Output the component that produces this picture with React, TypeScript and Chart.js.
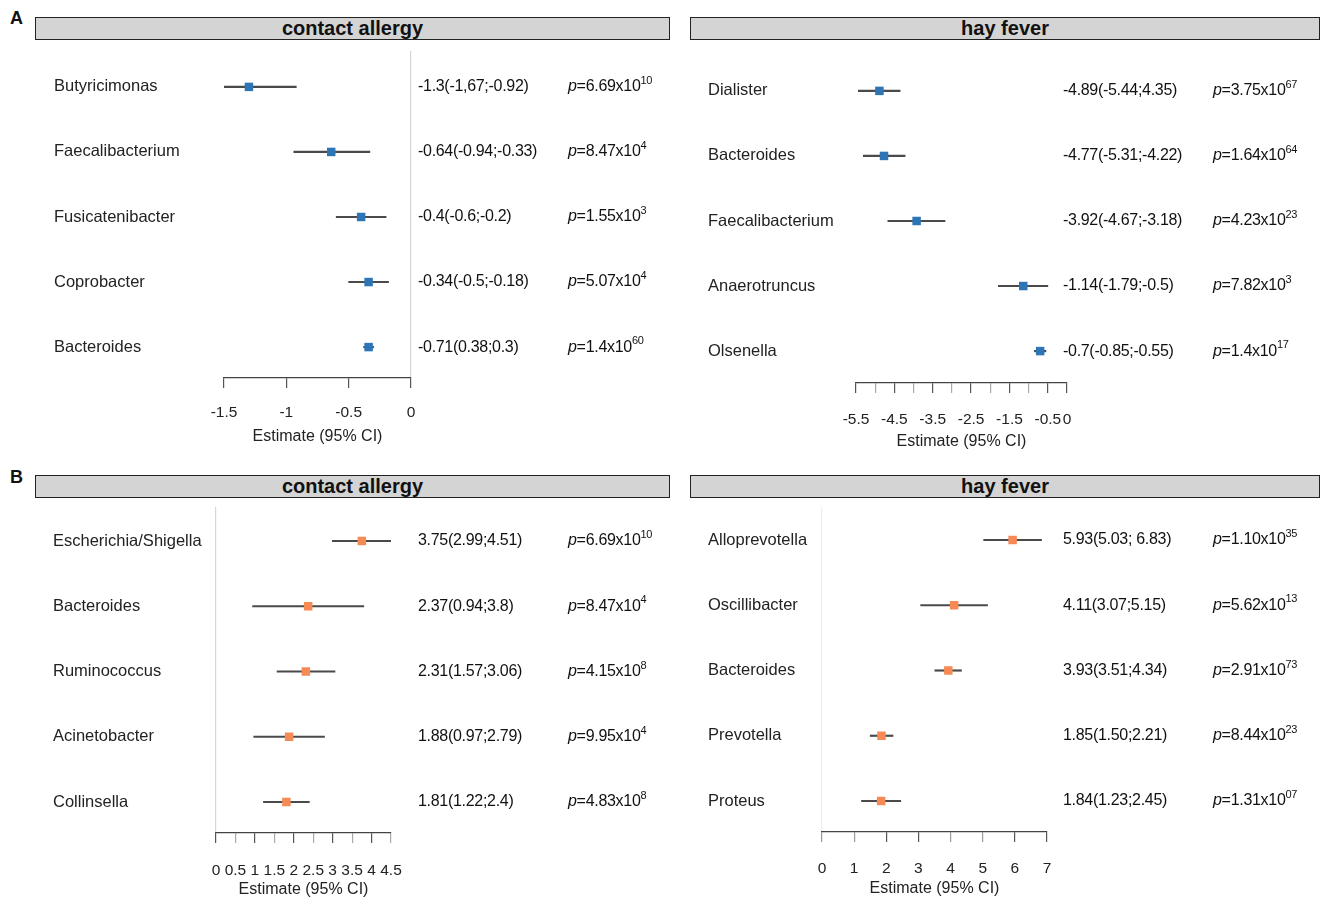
import React, { useEffect, useRef } from 'react';
import { Chart, registerables } from 'chart.js';

Chart.register(...registerables);

// ---------- Panel A: contact allergy ----------
const contactATaxa = ['Butyricimonas', 'Faecalibacterium', 'Fusicatenibacter', 'Coprobacter', 'Bacteroides'];
const contactAEst = [-1.3, -0.64, -0.4, -0.34, -0.34];
const contactALo = [-1.67, -0.94, -0.6, -0.5, -0.38];
const contactAHi = [-0.92, -0.33, -0.2, -0.18, -0.3];
const contactAEstText = ['-1.3(-1,67;-0.92)', '-0.64(-0.94;-0.33)', '-0.4(-0.6;-0.2)', '-0.34(-0.5;-0.18)', '-0.71(0.38;0.3)'];
const contactAPBase = ['6.69', '8.47', '1.55', '5.07', '1.4'];
const contactAPExp = ['10', '4', '3', '4', '60'];
const contactATicks = [-1.5, -1, -0.5, 0];
const contactATickLabels = ['-1.5', '-1', '-0.5', '0'];

// ---------- Panel A: hay fever ----------
const hayATaxa = ['Dialister', 'Bacteroides', 'Faecalibacterium', 'Anaerotruncus', 'Olsenella'];
const hayAEst = [-4.89, -4.77, -3.92, -1.14, -0.7];
const hayALo = [-5.44, -5.31, -4.67, -1.79, -0.85];
const hayAHi = [-4.35, -4.22, -3.18, -0.5, -0.55];
const hayAEstText = ['-4.89(-5.44;4.35)', '-4.77(-5.31;-4.22)', '-3.92(-4.67;-3.18)', '-1.14(-1.79;-0.5)', '-0.7(-0.85;-0.55)'];
const hayAPBase = ['3.75', '1.64', '4.23', '7.82', '1.4'];
const hayAPExp = ['67', '64', '23', '3', '17'];
const hayATicks = [-5.5, -5, -4.5, -4, -3.5, -3, -2.5, -2, -1.5, -1, -0.5, 0];
const hayATickLabels = ['-5.5', '', '-4.5', '', '-3.5', '', '-2.5', '', '-1.5', '', '-0.5', '0'];

// ---------- Panel B: contact allergy ----------
const contactBTaxa = ['Escherichia/Shigella', 'Bacteroides', 'Ruminococcus', 'Acinetobacter', 'Collinsella'];
const contactBEst = [3.75, 2.37, 2.31, 1.88, 1.81];
const contactBLo = [2.99, 0.94, 1.57, 0.97, 1.22];
const contactBHi = [4.51, 3.8, 3.06, 2.79, 2.4];
const contactBEstText = ['3.75(2.99;4.51)', '2.37(0.94;3.8)', '2.31(1.57;3.06)', '1.88(0.97;2.79)', '1.81(1.22;2.4)'];
const contactBPBase = ['6.69', '8.47', '4.15', '9.95', '4.83'];
const contactBPExp = ['10', '4', '8', '4', '8'];
const contactBTicks = [0, 0.5, 1, 1.5, 2, 2.5, 3, 3.5, 4, 4.5];
const contactBTickLabels = ['0', '0.5', '1', '1.5', '2', '2.5', '3', '3.5', '4', '4.5'];

// ---------- Panel B: hay fever ----------
const hayBTaxa = ['Alloprevotella', 'Oscillibacter', 'Bacteroides', 'Prevotella', 'Proteus'];
const hayBEst = [5.93, 4.11, 3.93, 1.85, 1.84];
const hayBLo = [5.03, 3.07, 3.51, 1.5, 1.23];
const hayBHi = [6.83, 5.15, 4.34, 2.21, 2.45];
const hayBEstText = ['5.93(5.03; 6.83)', '4.11(3.07;5.15)', '3.93(3.51;4.34)', '1.85(1.50;2.21)', '1.84(1.23;2.45)'];
const hayBPBase = ['1.10', '5.62', '2.91', '8.44', '1.31'];
const hayBPExp = ['35', '13', '73', '23', '07'];
const hayBTicks = [0, 1, 2, 3, 4, 5, 6, 7];
const hayBTickLabels = ['0', '1', '2', '3', '4', '5', '6', '7'];

const axisTitle = 'Estimate (95% CI)';
const BLUE = '#2e75b6';
const ORANGE = '#f58a54';
const FONT = '"Liberation Sans", Arial, sans-serif';

type Panel = {
  taxa: string[]; est: number[]; lo: number[]; hi: number[];
  estText: string[]; pBase: string[]; pExp: string[];
  ticks: number[]; tickLabels: string[];
  color: string;
  canvas: { left: number; top: number; width: number; height: number };
  area: { left: number; right: number; top: number; bottom: number };
  row1: number; row5: number;
  taxaX: number; estX: number; pX: number;
  tickPad: number; axisH: number; titlePad: number;
  zeroColor: string;
  tickColorFn: (i: number, v: number) => string;
};

const panels: Panel[] = [
  {
    taxa: contactATaxa, est: contactAEst, lo: contactALo, hi: contactAHi,
    estText: contactAEstText, pBase: contactAPBase, pExp: contactAPExp,
    ticks: contactATicks, tickLabels: contactATickLabels, color: BLUE,
    canvas: { left: 0, top: 45, width: 680, height: 410 },
    area: { left: 224, right: 411, top: 50, bottom: 378 },
    row1: 86, row5: 347, taxaX: 54, estX: 418, pX: 568,
    tickPad: 15, axisH: 70, titlePad: 2, zeroColor: '#d6d6d6',
    tickColorFn: () => '#555555',
  },
  {
    taxa: hayATaxa, est: hayAEst, lo: hayALo, hi: hayAHi,
    estText: hayAEstText, pBase: hayAPBase, pExp: hayAPExp,
    ticks: hayATicks, tickLabels: hayATickLabels, color: BLUE,
    canvas: { left: 680, top: 45, width: 648, height: 410 },
    area: { left: 856, right: 1067, top: 50, bottom: 383 },
    row1: 90, row5: 351, taxaX: 708, estX: 1063, pX: 1213,
    tickPad: 17, axisH: 70, titlePad: 2, zeroColor: 'rgba(0,0,0,0)',
    tickColorFn: (i) => (hayATickLabels[i] ? '#555555' : '#aaaaaa'),
  },
  {
    taxa: contactBTaxa, est: contactBEst, lo: contactBLo, hi: contactBHi,
    estText: contactBEstText, pBase: contactBPBase, pExp: contactBPExp,
    ticks: contactBTicks, tickLabels: contactBTickLabels, color: ORANGE,
    canvas: { left: 0, top: 500, width: 680, height: 401 },
    area: { left: 216, right: 391, top: 507, bottom: 833 },
    row1: 541, row5: 802, taxaX: 53, estX: 418, pX: 568,
    tickPad: 18, axisH: 66, titlePad: 0, zeroColor: '#d6d6d6',
    tickColorFn: (i) => (i % 2 === 0 ? '#555555' : '#aaaaaa'),
  },
  {
    taxa: hayBTaxa, est: hayBEst, lo: hayBLo, hi: hayBHi,
    estText: hayBEstText, pBase: hayBPBase, pExp: hayBPExp,
    ticks: hayBTicks, tickLabels: hayBTickLabels, color: ORANGE,
    canvas: { left: 680, top: 500, width: 648, height: 401 },
    area: { left: 822, right: 1047, top: 507, bottom: 832 },
    row1: 540, row5: 801, taxaX: 708, estX: 1063, pX: 1213,
    tickPad: 17, axisH: 66, titlePad: 0, zeroColor: '#eeeeee',
    tickColorFn: (i) => (i % 4 === 2 || i % 4 === 3 ? '#555555' : '#999999'),
  },
];

function makeTextPlugin(p: Panel) {
  return {
    id: 'forestText',
    afterDraw(chart: any) {
      const { ctx } = chart;
      const ys = chart.scales.y;
      ctx.save();
      ctx.textBaseline = 'middle';
      ctx.textAlign = 'left';
      p.taxa.forEach((name, i) => {
        const y = ys.getPixelForValue(i + 1);
        ctx.letterSpacing = '0px';
        ctx.fillStyle = '#222222';
        ctx.font = `16.5px ${FONT}`;
        ctx.fillText(name, p.taxaX - p.canvas.left, y);
        // estimate text
        ctx.fillStyle = '#111111';
        ctx.font = `16px ${FONT}`;
        ctx.letterSpacing = '-0.3px';
        ctx.fillText(p.estText[i], p.estX - p.canvas.left, y);
        // p value
        let x = p.pX - p.canvas.left;
        ctx.font = `italic 16px ${FONT}`;
        ctx.fillText('p', x, y);
        x += ctx.measureText('p').width;
        ctx.font = `16px ${FONT}`;
        const mid = '=' + p.pBase[i] + 'x10';
        ctx.fillText(mid, x, y);
        x += ctx.measureText(mid).width;
        ctx.font = `11px ${FONT}`;
        ctx.fillText(p.pExp[i], x, y - 6);
      });
      ctx.restore();
    },
  };
}

function ForestChart({ p }: { p: Panel }) {
  const ref = useRef<HTMLCanvasElement>(null);
  useEffect(() => {
    if (!ref.current) return;
    const c = p.canvas;
    const a = p.area;
    const spacing = (p.row5 - p.row1) / 4;
    const ymin = 1 - (p.row1 - a.top) / spacing;
    const ymax = ymin + (a.bottom - a.top) / spacing;
    const padBottom = c.top + c.height - a.bottom - p.axisH;
    const chart = new Chart(ref.current, {
      type: 'scatter',
      data: {
        datasets: [
          {
            type: 'bar',
            indexAxis: 'y',
            data: p.lo.map((l, i) => ({ x: [l, p.hi[i]], y: i + 1 })),
            backgroundColor: '#4a4a4a',
            borderWidth: 0,
            barThickness: 1.5,
            order: 2,
          } as any,
          {
            type: 'scatter',
            data: p.est.map((e, i) => ({ x: e, y: i + 1 })),
            pointStyle: 'rect',
            pointRadius: 6,
            pointHoverRadius: 6,
            backgroundColor: p.color,
            borderWidth: 0,
            order: 1,
          } as any,
        ],
      },
      options: {
        responsive: false,
        animation: false,
        events: [],
        layout: {
          padding: {
            left: a.left - c.left,
            right: c.left + c.width - a.right,
            top: a.top - c.top,
            bottom: padBottom,
          },
        },
        plugins: { legend: { display: false }, tooltip: { enabled: false } },
        scales: {
          x: {
            type: 'linear',
            min: p.ticks[0],
            max: p.ticks[p.ticks.length - 1],
            offset: false,
            afterBuildTicks: (scale: any) => {
              scale.ticks = p.ticks.map((v) => ({ value: v }));
            },
            afterFit: (scale: any) => {
              scale.height = p.axisH;
            },
            ticks: {
              autoSkip: false,
              maxRotation: 0,
              padding: p.tickPad,
              color: '#222222',
              font: { family: FONT, size: 15.5 },
              callback: (_v: any, i: number) => p.tickLabels[i],
            },
            grid: {
              drawTicks: true,
              tickLength: 10,
              lineWidth: 1.2,
              color: (ctx: any) => (ctx.tick && ctx.tick.value === 0 ? p.zeroColor : 'rgba(0,0,0,0)'),
              tickColor: (ctx: any) => p.tickColorFn(ctx.index, ctx.tick ? ctx.tick.value : 0),
            },
            border: { display: true, color: '#444444', width: 1.2 },
            title: {
              display: true,
              text: axisTitle,
              color: '#222222',
              font: { family: FONT, size: 16 },
              padding: { top: 0, bottom: p.titlePad },
            },
          },
          y: {
            type: 'linear',
            display: false,
            reverse: true,
            min: ymin,
            max: ymax,
            offset: false,
          },
        },
      } as any,
      plugins: [makeTextPlugin(p)],
    });
    return () => chart.destroy();
  }, [p]);
  return (
    <canvas
      ref={ref}
      width={p.canvas.width}
      height={p.canvas.height}
      style={{
        position: 'absolute',
        left: p.canvas.left,
        top: p.canvas.top,
        width: p.canvas.width,
        height: p.canvas.height,
      }}
    />
  );
}

const headers = [
  { text: 'contact allergy', left: 35, top: 17, width: 635 },
  { text: 'hay fever', left: 690, top: 17, width: 630 },
  { text: 'contact allergy', left: 35, top: 475, width: 635 },
  { text: 'hay fever', left: 690, top: 475, width: 630 },
];

const letters = [
  { text: 'A', left: 10, top: 8 },
  { text: 'B', left: 10, top: 467 },
];

export default function App() {
  useEffect(() => {
    document.body.style.margin = '0';
  }, []);
  return (
    <div style={{ position: 'relative', width: 1328, height: 901, background: '#ffffff', overflow: 'hidden' }}>
      {headers.map((h, i) => (
        <div
          key={i}
          style={{
            position: 'absolute',
            left: h.left,
            top: h.top,
            width: h.width,
            height: 23,
            boxSizing: 'border-box',
            background: '#d4d4d4',
            border: '1.5px solid #222',
            textAlign: 'center',
            fontFamily: FONT,
            fontWeight: 'bold',
            fontSize: 20,
            lineHeight: '21px',
            color: '#111',
          }}
        >
          {h.text}
        </div>
      ))}
      {letters.map((l, i) => (
        <div
          key={i}
          style={{
            position: 'absolute',
            left: l.left,
            top: l.top,
            fontFamily: FONT,
            fontWeight: 'bold',
            fontSize: 18,
            color: '#111',
          }}
        >
          {l.text}
        </div>
      ))}
      {panels.map((p, i) => (
        <ForestChart key={i} p={p} />
      ))}
    </div>
  );
}
